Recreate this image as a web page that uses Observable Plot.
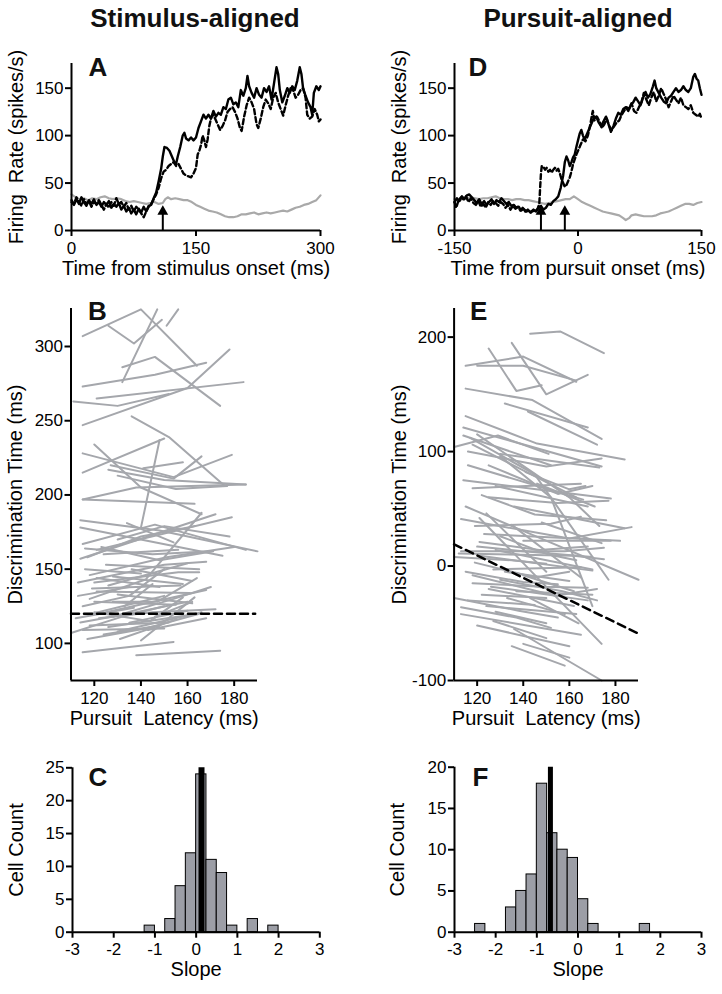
<!DOCTYPE html>
<html><head><meta charset="utf-8">
<script src="https://cdn.jsdelivr.net/npm/d3@7"></script>
<script src="https://cdn.jsdelivr.net/npm/@observablehq/plot@0.6"></script>
<style>
body{margin:0;background:#fff;}
#fig{position:relative;width:722px;height:994px;font-family:"Liberation Sans",Arial,Helvetica,sans-serif;overflow:hidden;background:#fff;}
#fig svg{position:absolute;overflow:visible;background:transparent;}
.title{position:absolute;top:5px;font-weight:bold;font-size:26px;line-height:1;transform:translateX(-50%);white-space:nowrap;color:#111;}
</style></head>
<body><div id="fig">
<div class="title" style="left:195px">Stimulus-aligned</div>
<div class="title" style="left:578px">Pursuit-aligned</div>
</div>
<script>
// ---------- Panel A (stimulus-aligned firing rate) [time ms, spikes/s] ----------
const aSolid = [[0,30],[3,27],[6,33],[9,28],[12,35],[15,30],[18,26],[21,32],[24,28],[27,33],[30,27],[33,30],[36,25],[39,30],[42,27],[45,31],[48,24],[51,28],[54,25],[57,29],[60,22],[63,26],[66,20],[69,24],[72,18],[75,22],[78,17],[81,23],[84,19],[87,25],[90,20],[93,26],[96,27],[99,34],[102,40],[105,52],[108,65],[110,78],[112,88],[115,87],[118,84],[121,78],[124,72],[126,70],[128,78],[131,88],[134,100],[136,103],[138,97],[141,95],[144,98],[147,95],[150,98],[153,108],[156,115],[159,122],[162,118],[165,122],[168,118],[171,126],[174,120],[177,124],[180,122],[183,130],[186,128],[189,138],[192,140],[195,133],[198,135],[201,130],[204,148],[207,142],[210,150],[212,163],[214,152],[217,145],[220,140],[223,150],[226,143],[229,140],[232,150],[235,146],[238,152],[241,138],[244,155],[247,172],[249,165],[251,148],[254,135],[257,142],[260,150],[263,145],[266,152],[269,148],[272,158],[275,172],[277,165],[279,150],[282,142],[285,135],[288,130],[290,122],[292,145],[295,152],[298,148],[300,152]];
const aDashed = [[0,32],[3,28],[6,35],[9,30],[12,26],[15,33],[18,28],[21,31],[24,25],[27,30],[30,28],[33,32],[36,27],[39,22],[42,28],[45,24],[48,30],[51,26],[54,34],[57,28],[60,30],[63,25],[66,29],[69,22],[72,26],[75,20],[78,25],[81,22],[84,18],[87,14],[90,20],[93,25],[96,28],[99,33],[102,38],[105,45],[108,55],[111,62],[114,64],[117,68],[120,70],[123,72],[126,68],[129,70],[132,65],[135,60],[138,58],[141,57],[144,56],[147,60],[150,66],[152,80],[154,84],[156,90],[158,100],[160,95],[162,88],[164,96],[166,110],[168,118],[170,122],[173,118],[176,112],[179,106],[182,110],[185,116],[188,125],[191,128],[194,130],[197,125],[200,118],[203,108],[205,105],[208,120],[211,132],[214,140],[217,135],[220,128],[223,112],[225,108],[228,118],[231,130],[234,138],[237,134],[240,128],[243,140],[246,145],[249,135],[252,128],[255,121],[258,132],[261,142],[264,150],[267,148],[270,140],[273,143],[276,148],[279,150],[282,140],[284,122],[287,118],[290,120],[293,128],[296,122],[298,115],[300,117]];
const aGray = [[0,38],[5,35],[10,33],[15,34],[20,32],[25,34],[30,33],[35,35],[40,36],[45,34],[50,33],[55,34],[60,33],[65,31],[70,30],[75,31],[80,30],[85,29],[90,28],[95,29],[100,30],[105,28],[110,29],[113,33],[116,35],[120,33],[125,34],[130,33],[135,32],[140,32],[145,30],[150,27],[155,25],[160,23],[165,21],[170,20],[175,19],[180,17],[185,15],[190,14],[195,14],[200,15],[205,17],[210,17],[215,18],[220,19],[225,17],[230,18],[235,19],[240,18],[245,19],[250,20],[255,21],[260,20],[265,22],[270,24],[275,25],[280,27],[285,28],[290,30],[295,32],[300,37]];
const aArrows = [110];

// ---------- Panel D (pursuit-aligned firing rate) ----------
const dSolid = [[-150,30],[-147,34],[-144,31],[-141,36],[-138,33],[-135,37],[-132,38],[-129,35],[-126,32],[-123,29],[-120,33],[-117,28],[-114,31],[-111,27],[-108,30],[-105,33],[-102,28],[-99,32],[-96,30],[-93,34],[-90,31],[-87,28],[-84,30],[-81,26],[-78,27],[-75,24],[-72,25],[-69,21],[-66,23],[-63,20],[-60,21],[-57,19],[-54,22],[-51,20],[-48,24],[-45,26],[-42,22],[-39,24],[-36,28],[-33,27],[-30,31],[-27,33],[-24,36],[-21,45],[-18,58],[-16,72],[-14,78],[-12,74],[-10,68],[-8,72],[-6,77],[-4,80],[-2,88],[0,95],[2,102],[4,106],[6,100],[8,96],[10,100],[13,106],[16,112],[19,118],[22,120],[25,114],[28,110],[31,115],[34,120],[37,112],[40,104],[43,110],[46,118],[49,124],[52,122],[55,128],[58,130],[61,126],[64,132],[67,135],[70,140],[73,136],[76,132],[79,140],[82,146],[85,140],[88,144],[91,152],[93,158],[95,150],[98,145],[101,140],[104,136],[107,134],[110,140],[113,142],[116,146],[119,150],[122,146],[125,148],[128,152],[131,148],[134,146],[137,150],[140,162],[142,165],[144,160],[146,158],[148,150],[150,143]];
const dDashed = [[-150,30],[-148,24],[-145,32],[-142,35],[-139,33],[-136,36],[-133,30],[-130,34],[-127,29],[-124,27],[-121,31],[-118,25],[-115,28],[-112,24],[-109,30],[-106,27],[-103,31],[-100,29],[-97,26],[-94,30],[-91,28],[-88,24],[-85,27],[-82,22],[-79,26],[-76,23],[-73,25],[-70,21],[-67,24],[-64,20],[-61,22],[-58,19],[-55,21],[-52,20],[-49,23],[-47,28],[-46,45],[-45,60],[-44,68],[-42,67],[-40,64],[-38,66],[-36,62],[-34,64],[-32,61],[-30,64],[-28,66],[-26,63],[-24,65],[-22,60],[-20,54],[-18,50],[-16,46],[-14,48],[-12,52],[-10,56],[-8,62],[-6,70],[-4,75],[-2,80],[0,84],[3,90],[6,96],[9,94],[12,100],[15,112],[17,122],[18,126],[20,116],[23,120],[26,115],[29,108],[32,112],[35,118],[38,110],[41,106],[44,110],[47,114],[50,116],[53,122],[56,126],[59,130],[62,128],[65,134],[68,126],[71,124],[74,130],[77,135],[80,145],[83,138],[86,132],[89,140],[92,146],[95,136],[98,142],[101,150],[104,144],[107,138],[110,130],[113,136],[116,142],[119,138],[122,134],[125,140],[128,132],[131,130],[134,128],[137,132],[140,124],[143,122],[146,120],[148,123],[150,118]];
const dGray = [[-150,33],[-145,32],[-140,33],[-135,34],[-130,35],[-125,34],[-120,33],[-115,34],[-110,34],[-105,35],[-100,36],[-95,34],[-90,33],[-85,33],[-80,32],[-75,33],[-70,33],[-65,32],[-60,32],[-55,31],[-50,30],[-45,29],[-40,28],[-35,29],[-30,30],[-25,31],[-20,32],[-15,33],[-10,33],[-5,36],[0,33],[5,30],[10,28],[15,26],[20,24],[25,22],[30,20],[35,19],[40,18],[45,17],[50,16],[55,13],[58,11],[62,13],[65,16],[70,17],[75,16],[80,15],[85,15],[90,15],[95,16],[100,18],[105,19],[110,20],[115,22],[120,24],[125,26],[130,28],[135,28],[140,27],[145,29],[150,30]];
const dArrows = [-45, -16];

// ---------- Panel B: per-cell lines [pursuit latency ms, discrimination time ms] ----------
const bCells = [
[[115,307],[140,325],[164,287]],[[126,314],[137,302],[149,318]],[[132,276],[147,325]],[[151,314],[156,325]],
[[132,286],[146,293],[174,260]],[[115,273],[146,281],[168,289]],[[111,263],[130,260],[152,268]],[[115,247],[160,272],[178,298]],
[[121,265],[184,276]],[[136,253],[152,239],[176,206]],[[115,215],[150,238]],[[120,234],[140,205],[166,187]],
[[115,228],[154,212],[179,227]],[[127,220],[154,211],[166,226]],[[126,217],[150,210],[185,207]],[[140,178],[148,237]],
[[141,218],[158,222]],[[115,197],[138,205],[185,207]],[[115,197],[163,194]],[[130,213],[155,204],[177,206]],
[[114,183],[148,176],[190,162]],[[114,178],[175,159]],[[114,157],[172,187]],[[121,163],[179,185]],
[[115,167],[146,180],[185,163]],[[118,146],[151,158],[180,165]],[[120,141],[156,148],[165,148]],[[116,164],[145,160],[170,162]],
[[113,141],[150,153],[168,155]],[[125,153],[165,150]],[[118,130],[142,143],[166,188]],[[123,165],[148,156],[171,162]],
[[128,145],[158,140]],[[117,158],[140,172],[163,179]],[[130,170],[150,179],[178,172]],[[119,137],[157,139]],
[[121,135],[161,134]],[[130,133],[162,127]],[[115,125],[135,132],[150,150]],[[120,128],[155,126]],
[[125,121],[168,136]],[[128,118],[154,130],[170,138]],[[114,114],[138,121],[160,128]],[[110,107],[132,118],[150,125]],
[[118,112],[152,114]],[[122,117],[145,121],[172,123]],[[115,109],[150,110]],[[126,111],[160,119]],
[[120,121],[144,115],[158,131]],[[130,108],[166,121]],[[135,114],[160,122]],[[117,103],[142,110],[165,120]],
[[124,106],[148,112]],[[140,102],[163,131]],[[115,94],[154,101]],[[138,92],[174,95]],
[[133,125],[145,140]],[[119,120],[150,132]],[[112,117],[137,124]],[[143,109],[168,117]],
[[128,128],[147,128],[164,144]],[[121,144],[148,138]],[[136,150],[162,142]],[[116,150],[140,147]],
[[126,139],[160,154]],[[131,103],[155,116]],[[146,118],[162,128]],[[113,132],[135,138]],
[[124,160],[156,163]],[[134,181],[154,168]]
];
const bFit = [[110,120],[189,120]];

// ---------- Panel E ----------
const eCells = [
[[143,203],[156,205],[175,186]],[[115,175],[140,183],[163,161]],[[120,175],[140,175],[163,162]],[[125,190],[137,153],[148,158]],
[[135,195],[150,150],[168,167]],[[115,155],[144,145],[174,111]],[[132,142],[168,121]],[[142,135],[172,106]],
[[115,131],[146,107],[184,93]],[[110,104],[129,114],[151,98]],[[114,121],[174,87]],[[114,114],[152,88]],
[[116,100],[150,87],[174,94]],[[130,98],[173,86]],[[114,75],[178,59]],[[118,68],[165,72]],
[[125,60],[155,55],[177,57]],[[136,52],[184,33]],[[115,52],[190,-12]],[[121,42],[174,-68]],
[[124,46],[150,-5]],[[113,41],[160,24],[187,34]],[[119,35],[152,37],[165,43]],[[123,28],[182,22]],
[[113,13],[158,13],[175,16]],[[112,11],[162,9],[175,6]],[[121,9],[170,-4]],[[110,-28],[138,-39],[155,-45]],
[[118,-8],[154,-26],[172,-20]],[[127,-3],[165,-1]],[[113,-42],[165,-60]],[[120,-52],[160,-70]],
[[136,-55],[174,-100]],[[140,-68],[160,-80]],[[118,-15],[148,-18],[168,-19]],[[125,-20],[162,-35]],
[[130,-12],[157,-22],[172,-30]],[[122,-25],[150,-28]],[[132,-5],[160,-13]],[[128,-40],[150,-50]],
[[116,-30],[145,-34]],[[124,-35],[163,-42]],[[133,-28],[158,-42]],[[126,-18],[168,-30]],
[[140,-8],[162,-22]],[[137,-22],[170,-25]],[[119,3],[145,-10],[160,-5]],[[121,21],[147,14],[168,17]],
[[130,26],[151,10],[163,5]],[[140,22],[178,22]],[[128,14],[170,-3]],[[135,36],[165,-10]],
[[120,115],[160,60],[173,35]],[[117,112],[145,80],[177,-12]],[[130,96],[152,60],[170,-35]],[[118,106],[163,60]],
[[125,88],[155,63],[170,70]],[[116,88],[166,58]],[[141,82],[160,67],[167,70]],[[128,70],[168,52]],
[[146,72],[171,52]],[[122,62],[145,45],[176,40]],[[120,17],[140,13],[170,8]],[[115,-5],[140,-14],[155,-16]],
[[143,-28],[164,-50]],[[127,-48],[150,-63]],[[148,38],[174,20]],[[110,8],[135,5],[150,2]],
[[135,-70],[158,-87]],[[113,-36],[137,-45],[152,-54]]
];
const eFit = [[110,19],[190,-59]];

// ---------- Panels C and F: slope histograms (bin start, count), bin width 0.25 ----------
const binWidth = 0.25;
const cBinStart = [-1.25,-0.75,-0.5,-0.25,0,0.25,0.5,0.75,1.25,1.75];
const cCounts   = [1,2,7,12,24,11,9,1,2,1];
const cMean = 0.13;
const fBinStart = [-2.5,-1.75,-1.5,-1.25,-1.0,-0.75,-0.5,-0.25,0,0.25,1.5];
const fCounts   = [1,3,5,7,18,12,10,9,4,1,1];
const fMean = -0.67;

// ---------- tick values ----------
const aXTicks = [0,150,300], rateYTicks = [0,50,100,150];
const dXTicks = [-150,0,150];
const latTicks = [120,140,160,180];
const bYTicks = [100,150,200,250,300];
const eYTicks = [-100,0,100,200];
const slopeTicks = [-3,-2,-1,0,1,2,3];
const cYTicks = [0,5,10,15,20,25], fYTicks = [0,5,10,15,20];

// ---------- rendering ----------
const fig = document.getElementById("fig");
const FONT = "'Liberation Sans', Arial, Helvetica, sans-serif";
const LINE_GRAY = "#a5a7ac";
const HIST_GRAY = "#9c9ea6";

function frameAxes({xd, yd, xTicks, yTicks, xLabel, yLabel, letter, ldx, ldy, ylDx = -55}) {
  return [
    Plot.ruleY([yd[0]], {x1: xd[0], x2: xd[1], stroke: "black", strokeWidth: 2}),
    Plot.ruleX([xd[0]], {y1: yd[0], y2: yd[1], stroke: "black", strokeWidth: 2}),
    Plot.axisX({ticks: xTicks, tickSize: 6, tickPadding: 5, strokeWidth: 2, tickFormat: d => String(d), fontSize: 17, label: null}),
    Plot.axisY({ticks: yTicks, tickSize: 6, tickPadding: 2, strokeWidth: 2, tickFormat: d => String(d), fontSize: 17, label: null}),
    Plot.text([xLabel], {text: d => d, frameAnchor: "bottom", textAnchor: "middle", dy: 44, fontSize: 20, fill: "black"}),
    Plot.text([yLabel], {text: d => d, frameAnchor: "left", textAnchor: "middle", lineAnchor: "middle", rotate: -90, dx: ylDx, fontSize: 20, fill: "black"}),
    Plot.text([letter], {text: d => d, frameAnchor: "top-left", textAnchor: "start", lineAnchor: "top", dx: ldx, dy: ldy, fontSize: 26, fontWeight: "bold", fill: "#111"})
  ];
}

function addPlot(pos, xd, yd, marks) {
  const svg = Plot.plot({
    width: pos.w, height: pos.h,
    marginLeft: pos.ml, marginRight: pos.mr, marginTop: pos.mt, marginBottom: pos.mb,
    x: {domain: xd}, y: {domain: yd},
    style: {fontFamily: FONT, fontSize: "17px", color: "black", background: "transparent", overflow: "visible"},
    marks
  });
  svg.style.position = "absolute";
  svg.style.left = pos.left + "px";
  svg.style.top = pos.top + "px";
  fig.appendChild(svg);
}

function rateMarks(solid, dashed, gray, arrows) {
  return [
    Plot.line(gray, {x: d => d[0], y: d => d[1], stroke: "#a9a9a9", strokeWidth: 2.2}),
    Plot.line(dashed, {x: d => d[0], y: d => d[1], stroke: "black", strokeWidth: 2.4, strokeDasharray: "5,3"}),
    Plot.line(solid, {x: d => d[0], y: d => d[1], stroke: "black", strokeWidth: 2.4}),
    Plot.ruleX(arrows, {x: d => d, y1: 0, y2: 19, stroke: "black", strokeWidth: 2}),
    Plot.dot(arrows, {x: d => d, y: 20, symbol: "triangle", r: 4, fill: "black", stroke: "none"})
  ];
}

function cellTable(cells) {
  return cells.flatMap((pts, i) => pts.map(([lat, dt]) => ({cell: i, lat, dt})));
}

// A
{
  const xd = [0,300], yd = [0,176];
  addPlot({left: 0, top: 40, w: 340, h: 250, ml: 71, mr: 20, mt: 23, mb: 60}, xd, yd, [
    ...rateMarks(aSolid, aDashed, aGray, aArrows),
    ...frameAxes({xd, yd, xTicks: aXTicks, yTicks: rateYTicks, xLabel: "Time from stimulus onset (ms)", yLabel: "Firing  Rate (spikes/s)", letter: "A", ldx: 17, ldy: -6})
  ]);
}
// D
{
  const xd = [-150,150], yd = [0,176];
  addPlot({left: 380, top: 40, w: 342, h: 250, ml: 74, mr: 21, mt: 23, mb: 60}, xd, yd, [
    ...rateMarks(dSolid, dDashed, dGray, dArrows),
    ...frameAxes({xd, yd, xTicks: dXTicks, yTicks: rateYTicks, xLabel: "Time from pursuit onset (ms)", yLabel: "Firing  Rate (spikes/s)", letter: "D", ldx: 14, ldy: -6})
  ]);
}
// B
{
  const xd = [110,190], yd = [75,325.6];
  addPlot({left: 0, top: 295, w: 340, h: 450, ml: 70.5, mr: 83, mt: 13, mb: 65}, xd, yd, [
    Plot.line(cellTable(bCells), {x: "lat", y: "dt", z: "cell", stroke: LINE_GRAY, strokeWidth: 2}),
    Plot.line(bFit, {x: d => d[0], y: d => d[1], stroke: "black", strokeWidth: 2.5, strokeDasharray: "8,5"}),
    ...frameAxes({xd, yd, xTicks: latTicks, yTicks: bYTicks, xLabel: "Pursuit  Latency (ms)", yLabel: "Discrimination Time (ms)", letter: "B", ldx: 17, ldy: -7})
  ]);
}
// E
{
  const xd = [110,190], yd = [-100,225];
  addPlot({left: 380, top: 295, w: 342, h: 450, ml: 73.6, mr: 84, mt: 13, mb: 65}, xd, yd, [
    Plot.line(cellTable(eCells), {x: "lat", y: "dt", z: "cell", stroke: LINE_GRAY, strokeWidth: 2}),
    Plot.line(eFit, {x: d => d[0], y: d => d[1], stroke: "black", strokeWidth: 2.5, strokeDasharray: "8,5"}),
    ...frameAxes({xd, yd, xTicks: latTicks, yTicks: eYTicks, xLabel: "Pursuit  Latency (ms)", yLabel: "Discrimination Time (ms)", letter: "E", ldx: 16, ldy: -7})
  ]);
}
// C
{
  const xd = [-3,3], yd = [0,25];
  const bins = cBinStart.map((b, i) => ({b, n: cCounts[i]}));
  addPlot({left: 0, top: 750, w: 340, h: 244, ml: 72, mr: 20.7, mt: 17.3, mb: 62.3}, xd, yd, [
    Plot.rectY(bins, {x1: "b", x2: d => d.b + binWidth, y1: 0, y2: "n", fill: HIST_GRAY, stroke: "black", strokeWidth: 1}),
    Plot.ruleX([cMean], {x: d => d, y1: 0, y2: 25, stroke: "black", strokeWidth: 6}),
    ...frameAxes({xd, yd, xTicks: slopeTicks, yTicks: cYTicks, xLabel: "Slope", yLabel: "Cell Count", letter: "C", ldx: 16, ldy: 0, ylDx: -56})
  ]);
}
// F
{
  const xd = [-3,3], yd = [0,20];
  const bins = fBinStart.map((b, i) => ({b, n: fCounts[i]}));
  addPlot({left: 380, top: 750, w: 342, h: 244, ml: 74, mr: 21, mt: 16.7, mb: 62.3}, xd, yd, [
    Plot.rectY(bins, {x1: "b", x2: d => d.b + binWidth, y1: 0, y2: "n", fill: HIST_GRAY, stroke: "black", strokeWidth: 1}),
    Plot.ruleX([fMean], {x: d => d, y1: 0, y2: 20, stroke: "black", strokeWidth: 5}),
    ...frameAxes({xd, yd, xTicks: slopeTicks, yTicks: fYTicks, xLabel: "Slope", yLabel: "Cell Count", letter: "F", ldx: 18, ldy: 0, ylDx: -57})
  ]);
}
</script>
</body></html>
